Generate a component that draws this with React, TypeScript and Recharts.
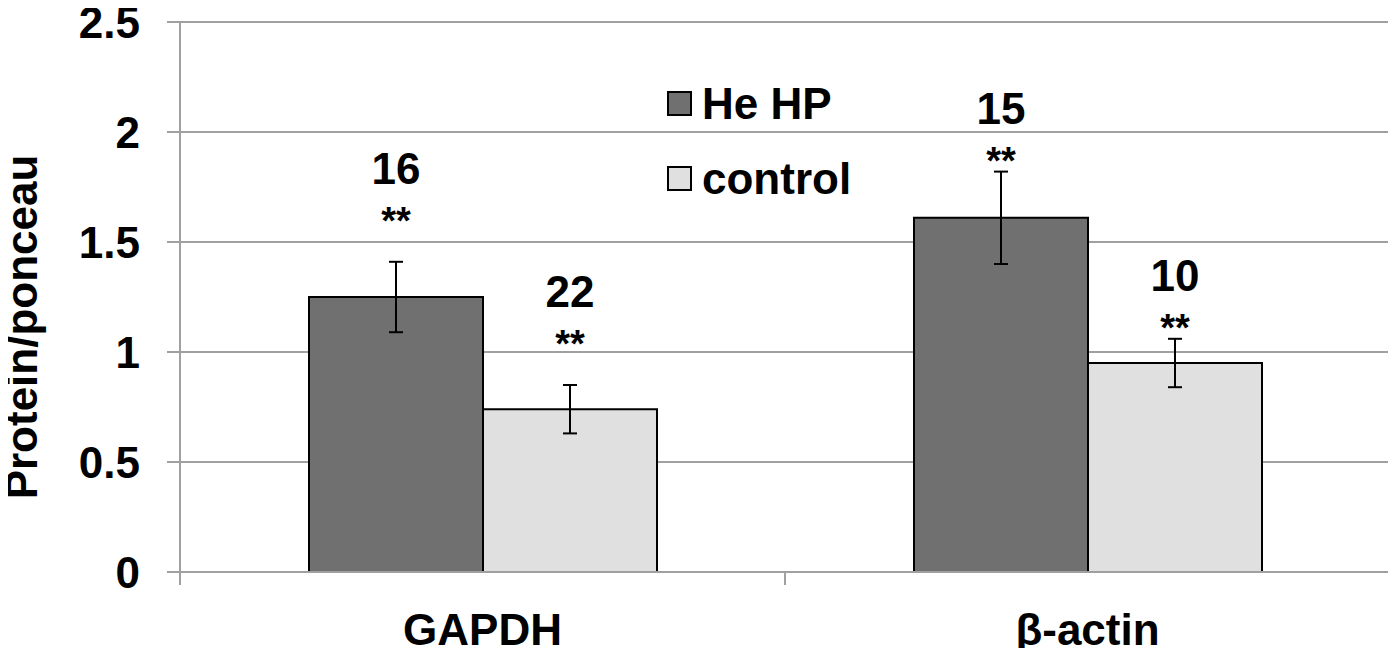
import React from "react";
import {
  BarChart,
  Bar,
  XAxis,
  YAxis,
  CartesianGrid,
  Legend,
  ErrorBar,
  LabelList,
  Label,
} from "recharts";

const categories = ["GAPDH", "β-actin"];
const heHpValues = [1.25, 1.61];
const heHpErrors = [0.16, 0.21];
const heHpN = [16, 15];
const controlValues = [0.74, 0.95];
const controlErrors = [0.11, 0.11];
const controlN = [22, 10];
const yTicks = [0, 0.5, 1, 1.5, 2, 2.5];

const data = categories.map((name, i) => ({
  name,
  heHp: heHpValues[i],
  heHpErr: heHpErrors[i],
  control: controlValues[i],
  controlErr: controlErrors[i],
}));

// layout (the wrapper cancels the body margin, so chart coords = page coords)
const W = 1396;
const H = 656;
const margin = { top: 22, right: 6, left: 8, bottom: 0 };
const yAxisWidth = 172;
const halfBand = (W - margin.left - yAxisWidth - margin.right) / categories.length / 2;
const starLift = [50, 20];

const font = "'Liberation Sans', Arial, sans-serif";
const gridColor = "#a0a0a0";
const heHpColor = "#707070";
const controlColor = "#e0e0e0";

const makeAnnotation = (counts: number[], errors: number[]) => (props: any) => {
  const { x, y, width, height, value, index } = props;
  const pxPerUnit = Number(height) / Number(value);
  const top = Number(y) - errors[index] * pxPerUnit;
  const starCenter = top - starLift[index];
  const cx = Number(x) + Number(width) / 2;
  return (
    <g>
      <text
        x={cx}
        y={starCenter - 28}
        textAnchor="middle"
        fontFamily={font}
        fontWeight="bold"
        fontSize={44}
        fill="#000"
      >
        {counts[index]}
      </text>
      <text
        x={cx}
        y={starCenter + 22}
        textAnchor="middle"
        fontFamily={font}
        fontWeight="bold"
        fontSize={38}
        fill="#000"
      >
        **
      </text>
    </g>
  );
};

const CategoryTick = ({ x, y, payload }: any) => (
  <g>
    <line x1={x - halfBand} x2={x - halfBand} y1={y} y2={y + 13} stroke={gridColor} strokeWidth={2} />
    <line x1={x + halfBand} x2={x + halfBand} y1={y} y2={y + 13} stroke={gridColor} strokeWidth={2} />
    <text
      x={x}
      y={y + 73}
      textAnchor="middle"
      fontFamily={font}
      fontWeight="bold"
      fontSize={44}
      fill="#000"
    >
      {payload.value}
    </text>
  </g>
);

const YLabel = ({ viewBox }: any) => {
  const cx = viewBox.x + 29;
  const cy = viewBox.y + viewBox.height / 2 + 30;
  return (
    <text
      x={cx}
      y={cy}
      transform={`rotate(-90, ${cx}, ${cy})`}
      textAnchor="middle"
      fontFamily={font}
      fontWeight="bold"
      fontSize={44}
      fill="#000"
    >
      Protein/ponceau
    </text>
  );
};

const LegendBox = () => (
  <div style={{ fontFamily: font, fontWeight: "bold", fontSize: 44, color: "#000" }}>
    {[
      ["He HP", heHpColor],
      ["control", controlColor],
    ].map(([label, color]) => (
      <div key={label} style={{ display: "flex", alignItems: "center", height: 75 }}>
        <span
          style={{
            display: "inline-block",
            width: 21,
            height: 21,
            background: color,
            border: "2px solid #000",
            marginRight: 10,
          }}
        />
        <span style={{ lineHeight: 1 }}>{label}</span>
      </div>
    ))}
  </div>
);

export default function App() {
  return (
    <div style={{ margin: -8, width: W, height: H }}>
      <BarChart
        width={W}
        height={H}
        data={data}
        margin={margin}
        barGap={0}
        barSize={174}
        style={{ fontFamily: font }}
      >
        <CartesianGrid vertical={false} stroke={gridColor} strokeWidth={2} />
        <XAxis
          dataKey="name"
          height={84}
          axisLine={{ stroke: gridColor, strokeWidth: 2 }}
          tickLine={false}
          tickSize={0}
          tickMargin={0}
          tick={<CategoryTick />}
          interval={0}
        />
        <YAxis
          width={yAxisWidth}
          domain={[0, 2.5]}
          ticks={yTicks}
          interval={0}
          axisLine={{ stroke: gridColor, strokeWidth: 2 }}
          tickLine={{ stroke: gridColor, strokeWidth: 2 }}
          tickSize={13}
          tickMargin={27}
          tick={{ fill: "#000", fontSize: 44, fontWeight: "bold", fontFamily: font }}
        >
          <Label content={<YLabel />} />
        </YAxis>
        <Legend
          layout="vertical"
          align="center"
          verticalAlign="middle"
          content={<LegendBox />}
          wrapperStyle={{ position: "absolute", left: 667, top: 66, width: "auto", height: "auto" }}
        />
        <Bar dataKey="heHp" fill={heHpColor} stroke="#000" strokeWidth={2} isAnimationActive={false}>
          <ErrorBar dataKey="heHpErr" width={7} stroke="#000" strokeWidth={2} />
          <LabelList dataKey="heHp" content={makeAnnotation(heHpN, heHpErrors)} />
        </Bar>
        <Bar dataKey="control" fill={controlColor} stroke="#000" strokeWidth={2} isAnimationActive={false}>
          <ErrorBar dataKey="controlErr" width={7} stroke="#000" strokeWidth={2} />
          <LabelList dataKey="control" content={makeAnnotation(controlN, controlErrors)} />
        </Bar>
      </BarChart>
    </div>
  );
}
